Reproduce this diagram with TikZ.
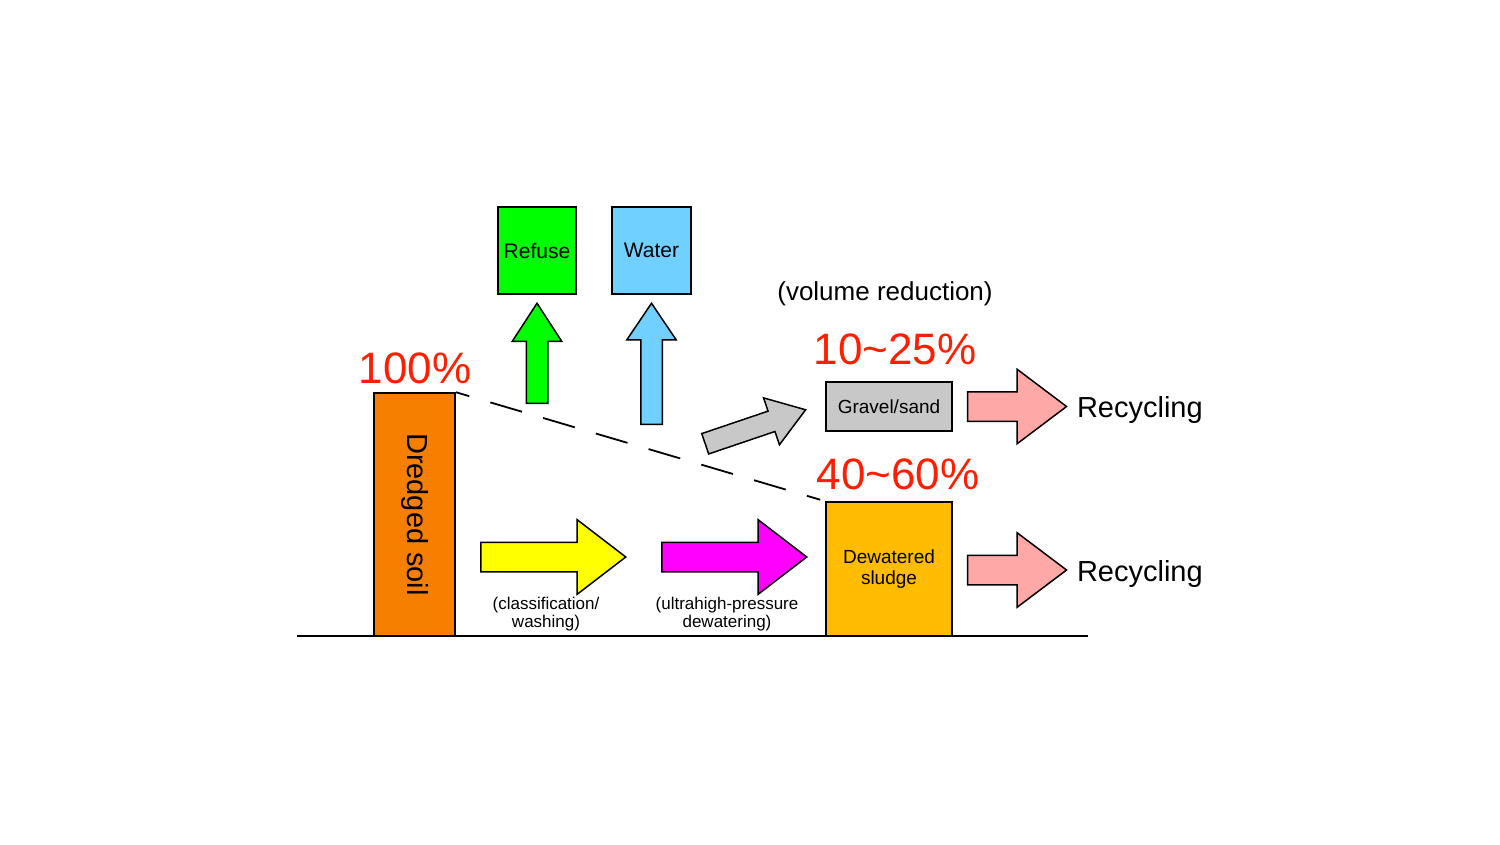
\documentclass[tikz,border=0pt]{standalone}
\usepackage{fontspec}
\setmainfont{Liberation Sans}
\usetikzlibrary{shapes.arrows,positioning}
\definecolor{soil}{HTML}{F77F00}
\definecolor{refuse}{HTML}{00FF00}
\definecolor{water}{HTML}{70D0FF}
\definecolor{gravel}{HTML}{C8C8C8}
\definecolor{sludge}{HTML}{FFBC00}
\definecolor{wash}{HTML}{FFFF00}
\definecolor{press}{HTML}{FF00FF}
\definecolor{recycle}{HTML}{FFA8A8}
\definecolor{pct}{HTML}{FF1F00}

\begin{document}
\begin{tikzpicture}[
    x=1pt,y=-1pt,
    box/.style={draw,line width=1.6pt,inner sep=0pt,align=center},
    bigarrow/.style={single arrow,draw,line width=1.5pt,inner xsep=0pt,inner ysep=14pt,
      minimum width=0pt,single arrow head extend=22.5pt,single arrow tip angle=75,anchor=tail},
    smallarrow/.style={single arrow,draw,line width=1.5pt,inner xsep=0pt,inner ysep=10pt,
      minimum width=0pt,single arrow head extend=14pt,single arrow tip angle=66,anchor=tail},
    percent/.style={text=pct,inner sep=0pt,font=\fontsize{44}{48}\selectfont},
    caption/.style={inner sep=0pt,align=center,font=\fontsize{17}{18}\selectfont},
    result/.style={inner sep=0pt,font=\fontsize{29}{33}\selectfont}
  ]
    \useasboundingbox (0,0) rectangle (1500,844);
    \coordinate (groundL) at (297,636);
    \coordinate (groundR) at (1088,636);
    \draw[line width=1.8pt] (groundL) -- (groundR);

    \node[box,fill=soil,minimum width=81pt,minimum height=243pt,font=\fontsize{29}{33}\selectfont]
      (soil) at (414.5,514.5) {\rotatebox{-90}{Dredged soil}};
    \node[box,fill=sludge,minimum width=126pt,minimum height=134pt,font=\fontsize{19}{21}\selectfont]
      (sludge) at (889,569) {\raisebox{-3pt}{Dewatered}\\\raisebox{-3pt}{sludge}};
    \node[box,fill=gravel,minimum width=126pt,minimum height=49pt,font=\fontsize{19}{21}\selectfont]
      (sand) at (889,406.5) {Gravel/sand};
    \node[box,fill=refuse,minimum width=78pt,minimum height=87pt,font=\fontsize{21}{24}\selectfont]
      (ref) at (537,250.5) {Refuse};
    \node[box,fill=water,minimum width=79pt,minimum height=87pt,font=\fontsize{21}{24}\selectfont]
      (wat) at (651.5,250.5) {Water};

    \draw[line width=1.8pt,dash pattern=on 14pt off 22pt on 33pt off 22pt on 33pt off 22pt on 33pt off 22pt on 33pt off 22pt on 33pt off 22pt on 33pt off 22pt]
      (soil.north east) -- (sludge.north west);

    % process arrows
    \node[bigarrow,fill=wash,minimum height=145pt] (washarrow) at (480,557) {};
    \node[bigarrow,fill=press,minimum height=145pt] (pressarrow) at (661,557) {};
    \node[smallarrow,fill=refuse,minimum height=100pt,rotate=90] (refarrow) at (537,404) {};
    \node[smallarrow,fill=water,minimum height=121pt,rotate=90,single arrow tip angle=68] (watarrow) at (651.5,425) {};
    \node[smallarrow,fill=gravel,minimum height=106pt,rotate=18.7,single arrow tip angle=69] (sandarrow) at (704.5,444) {};
    \node[bigarrow,fill=recycle,minimum height=99pt,single arrow tip angle=74,right=14pt of sand] (rec1) {};
    \node[bigarrow,fill=recycle,minimum height=99pt,single arrow tip angle=74,right=14pt of sludge,yshift=-1pt] (rec2) {};

    \node[result,right=9pt of rec1,yshift=-3pt] (out1) {Recycling};
    \node[result,right=9pt of rec2,yshift=-4pt] (out2) {Recycling};

    \node[percent] (p100) at (415,368) {100\%};
    \node[percent] (p1025) at (895,349) {10\char`~25\%};
    \node[percent] (p4060) at (898,474) {40\char`~60\%};
    \node[inner sep=0pt,font=\fontsize{26}{30}\selectfont] (vol) at (885,294) {(volume reduction)};

    \node[caption] (cap1) at (546,614) {(classification/\\washing)};
    \node[caption] (cap2) at (727,614) {(ultrahigh-pressure\\dewatering)};
  \end{tikzpicture}
\end{document}
